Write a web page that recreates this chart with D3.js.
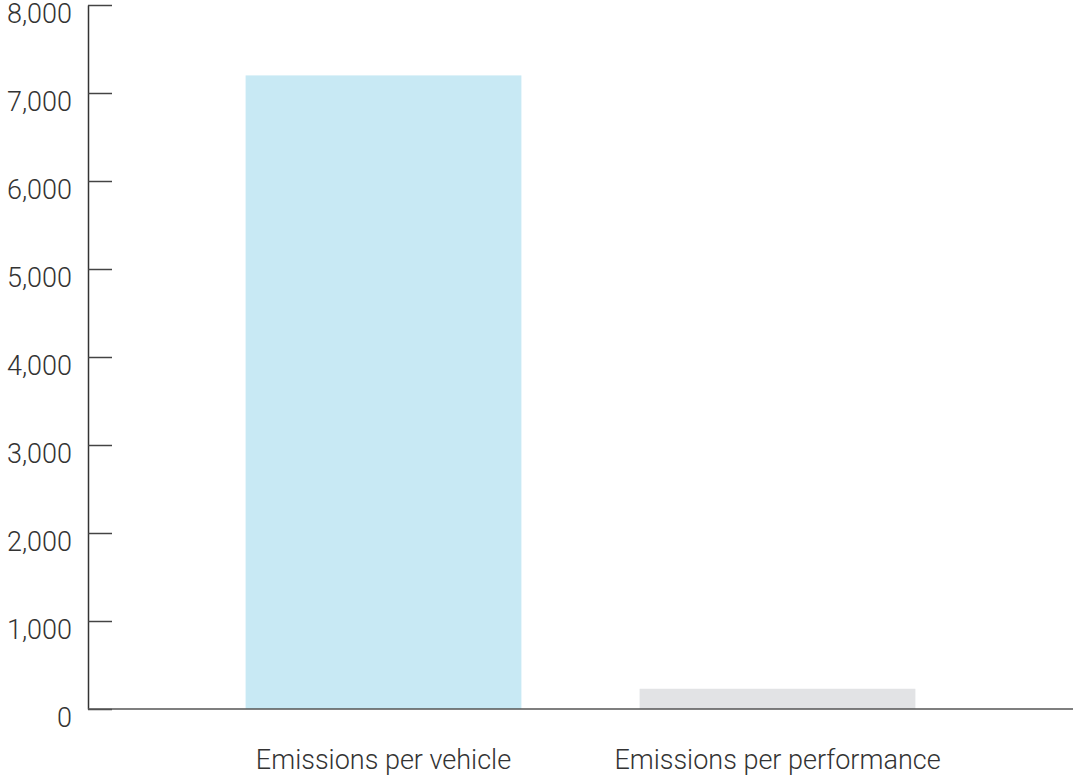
<!DOCTYPE html>
<html>
<head>
<meta charset="utf-8">
<script src="https://cdn.jsdelivr.net/npm/d3@7"></script>
<style>
  body { margin: 0; background: #fff; }
  svg { display: block; font-family: Roboto, sans-serif; font-weight: 300; }
</style>
</head>
<body>
<svg id="chart" width="1073" height="776"></svg>
<script>
"use strict";

const categories = ["Emissions per vehicle", "Emissions per performance"];
const values = [7200, 230];
const barColors = ["#c8e9f4", "#e2e3e5"];
const yTicks = [0, 1000, 2000, 3000, 4000, 5000, 6000, 7000, 8000];

const svg = d3.select("#chart");
const margin = { left: 88, right: 0, top: 5, bottom: 67 };
const width = 1073;
const height = 776;

const x = d3
  .scaleBand()
  .domain(categories)
  .range([margin.left, width - margin.right])
  .paddingInner(0.3)
  .paddingOuter(0.4);

const y = d3
  .scaleLinear()
  .domain([0, 8000])
  .range([height - margin.bottom, margin.top]);

// bars
svg
  .append("g")
  .selectAll("rect")
  .data(values)
  .enter()
  .append("rect")
  .attr("x", (d, i) => x(categories[i]))
  .attr("y", (d) => y(d))
  .attr("width", x.bandwidth())
  .attr("height", (d) => y(0) - y(d))
  .attr("fill", (d, i) => barColors[i]);

// y axis, ticks pointing into the plot
const yAxis = svg
  .append("g")
  .attr("transform", `translate(${margin.left},0)`)
  .call(
    d3
      .axisRight(y)
      .tickValues(yTicks)
      .tickSize(24)
      .tickSizeOuter(0)
      .tickFormat(d3.format(","))
  );

yAxis.select(".domain").attr("stroke", "#333").attr("stroke-width", 1.5);
yAxis.selectAll(".tick line").attr("stroke", "#444").attr("stroke-width", 1.5);
yAxis
  .selectAll(".tick text")
  .attr("x", -16)
  .attr("dy", 17)
  .attr("text-anchor", "end")
  .attr("fill", "#333")
  .style("font-size", "27px")
  .style("font-family", "Roboto, sans-serif")
  .style("font-weight", 300);

// baseline
svg
  .append("line")
  .attr("x1", margin.left)
  .attr("x2", width)
  .attr("y1", y(0))
  .attr("y2", y(0))
  .attr("stroke", "#555")
  .attr("stroke-width", 1.5);

// category labels
svg
  .append("g")
  .selectAll("text")
  .data(categories)
  .enter()
  .append("text")
  .attr("x", (d) => x(d) + x.bandwidth() / 2)
  .attr("y", y(0) + 60)
  .attr("text-anchor", "middle")
  .attr("fill", "#333")
  .style("font-size", "27px")
  .text((d) => d);
</script>
</body>
</html>
